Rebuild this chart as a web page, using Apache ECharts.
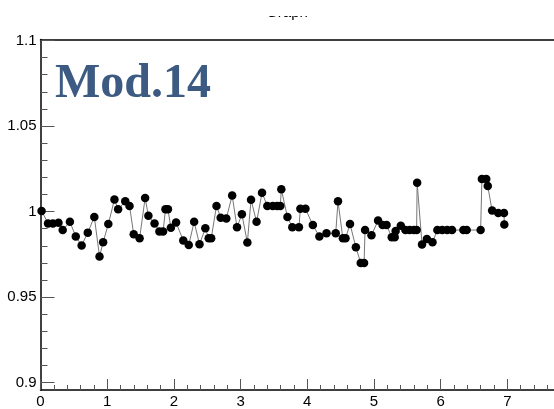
<!DOCTYPE html>
<html>
<head>
<meta charset="utf-8">
<script src="https://cdn.jsdelivr.net/npm/echarts@6/dist/echarts.min.js"></script>
<style>
  html, body { margin: 0; padding: 0; background: #fff; }
  #chart { width: 554px; height: 409px; }
</style>
</head>
<body>
<div id="chart"></div>
<script>
// Measured ratio per module position
const xVals = [
  0.016, 0.113, 0.186, 0.270, 0.333, 0.441, 0.529, 0.617, 0.709, 0.807,
  0.885, 0.939, 1.017, 1.109, 1.164, 1.271, 1.335, 1.398, 1.486, 1.569,
  1.618, 1.710, 1.783, 1.838, 1.874, 1.911, 1.955, 2.033, 2.141, 2.223,
  2.304, 2.384, 2.472, 2.522, 2.560, 2.639, 2.702, 2.786, 2.874, 2.947,
  3.020, 3.102, 3.157, 3.240, 3.322, 3.401, 3.483, 3.548, 3.596, 3.611,
  3.703, 3.776, 3.875, 3.897, 3.973, 4.084, 4.182, 4.289, 4.427, 4.461,
  4.534, 4.574, 4.641, 4.729, 4.802, 4.852, 4.867, 4.963, 5.062, 5.130,
  5.189, 5.267, 5.311, 5.325, 5.403, 5.472, 5.535, 5.599, 5.640, 5.648,
  5.721, 5.794, 5.878, 5.951, 6.024, 6.098, 6.171, 6.341, 6.391, 6.600,
  6.619, 6.684, 6.707, 6.772, 6.864, 6.950, 6.955
];
const yVals = [
  1.0004, 0.9931, 0.9931, 0.9935, 0.9892, 0.9940, 0.9854, 0.9802, 0.9877, 0.9969,
  0.9738, 0.9821, 0.9927, 1.0071, 1.0013, 1.0060, 1.0033, 0.9867, 0.9844, 1.0079,
  0.9975, 0.9931, 0.9883, 0.9883, 1.0013, 1.0013, 0.9906, 0.9936, 0.9831, 0.9805,
  0.9940, 0.9809, 0.9902, 0.9844, 0.9844, 1.0033, 0.9964, 0.9960, 1.0094, 0.9908,
  0.9984, 0.9819, 1.0069, 0.9940, 1.0110, 1.0033, 1.0033, 1.0033, 1.0033, 1.0130,
  0.9969, 0.9908, 0.9908, 1.0017, 1.0017, 0.9921, 0.9854, 0.9873, 0.9873, 1.0060,
  0.9844, 0.9844, 0.9927, 0.9792, 0.9699, 0.9699, 0.9892, 0.9861, 0.9948, 0.9921,
  0.9921, 0.9850, 0.9850, 0.9887, 0.9917, 0.9892, 0.9892, 0.9892, 0.9892, 1.0168,
  0.9808, 0.9840, 0.9821, 0.9892, 0.9892, 0.9892, 0.9892, 0.9892, 0.9892, 0.9892,
  1.0191, 1.0191, 1.0149, 1.0006, 0.9992, 0.9992, 0.9925
];

// Tick positions and labels
const xTickLabels = [0, 1, 2, 3, 4, 5, 6, 7];
const yTickLabels = [0.9, 0.95, 1, 1.05, 1.1];

// Axis ranges
const X_MIN = 0, X_MAX = 7.7;
const Y_MIN = 0.8957, Y_MAX = 1.1006;

// Minor ticks: 5 subdivisions on x, 0.01 steps on y
const xMinor = [];
for (let i = 1; i <= 38; i++) { if (i % 5 !== 0) xMinor.push(+(i * 0.2).toFixed(2)); }
const yMinor = [];
for (let i = 90; i <= 110; i++) { if (i % 5 !== 0) yMinor.push(+(i / 100).toFixed(2)); }

const points = xVals.map((x, i) => [x, yVals[i]]);

const FONT = '"Liberation Sans", Arial, Helvetica, sans-serif';
const axisLineStyle = { color: '#000', width: 1.5 };
const tickStyle = { color: '#555', width: 1 };

const chart = echarts.init(document.getElementById('chart'), null, { renderer: 'canvas' });

chart.setOption({
  animation: false,
  backgroundColor: '#fff',
  grid: { left: 40.5, top: 39.5, width: 525.4, height: 354 },
  xAxis: [
    {
      type: 'value', min: X_MIN, max: X_MAX, position: 'bottom',
      axisLine: { show: true, onZero: false, lineStyle: axisLineStyle },
      axisTick: { show: true, inside: true, length: 11, customValues: xTickLabels, lineStyle: tickStyle },
      axisLabel: { customValues: xTickLabels, color: '#000', fontSize: 15, fontFamily: FONT, margin: 4 },
      splitLine: { show: false }
    },
    {
      type: 'value', min: X_MIN, max: X_MAX, position: 'bottom',
      axisLine: { show: false },
      axisTick: { show: true, inside: true, length: 5, customValues: xMinor, lineStyle: tickStyle },
      axisLabel: { show: false },
      splitLine: { show: false }
    },
    {
      type: 'value', min: X_MIN, max: X_MAX, position: 'top',
      axisLine: { show: true, onZero: false, lineStyle: axisLineStyle },
      axisTick: { show: false },
      axisLabel: { show: false },
      splitLine: { show: false }
    }
  ],
  yAxis: [
    {
      type: 'value', min: Y_MIN, max: Y_MAX, position: 'left',
      axisLine: { show: true, onZero: false, lineStyle: axisLineStyle },
      axisTick: { show: true, inside: true, length: 14, customValues: yTickLabels, lineStyle: tickStyle },
      axisLabel: { customValues: yTickLabels, color: '#000', fontSize: 15, fontFamily: FONT, margin: 4 },
      splitLine: { show: false }
    },
    {
      type: 'value', min: Y_MIN, max: Y_MAX, position: 'left',
      axisLine: { show: false },
      axisTick: { show: true, inside: true, length: 7, customValues: yMinor, lineStyle: tickStyle },
      axisLabel: { show: false },
      splitLine: { show: false }
    }
  ],
  graphic: [
    {
      type: 'text', x: 287, y: 20, z: 10,
      style: { text: 'Graph', font: '15px ' + FONT, fill: '#000', textAlign: 'center', textVerticalAlign: 'bottom' }
    },
    {
      type: 'rect', z: 11, shape: { x: 240, y: 0, width: 100, height: 16 },
      style: { fill: '#fff' }
    },
    {
      type: 'text', x: 55, y: 85, z: 10,
      style: { text: 'Mod.14', font: 'bold 48px "Liberation Serif", "Times New Roman", serif', fill: '#3d5b82', textAlign: 'left', textVerticalAlign: 'middle' }
    }
  ],
  series: [
    {
      type: 'line',
      xAxisIndex: 0, yAxisIndex: 0,
      data: points,
      clip: false,
      symbol: 'circle',
      symbolSize: 8.5,
      itemStyle: { color: '#000' },
      lineStyle: { color: '#777', width: 1 }
    }
  ]
});
</script>
</body>
</html>
